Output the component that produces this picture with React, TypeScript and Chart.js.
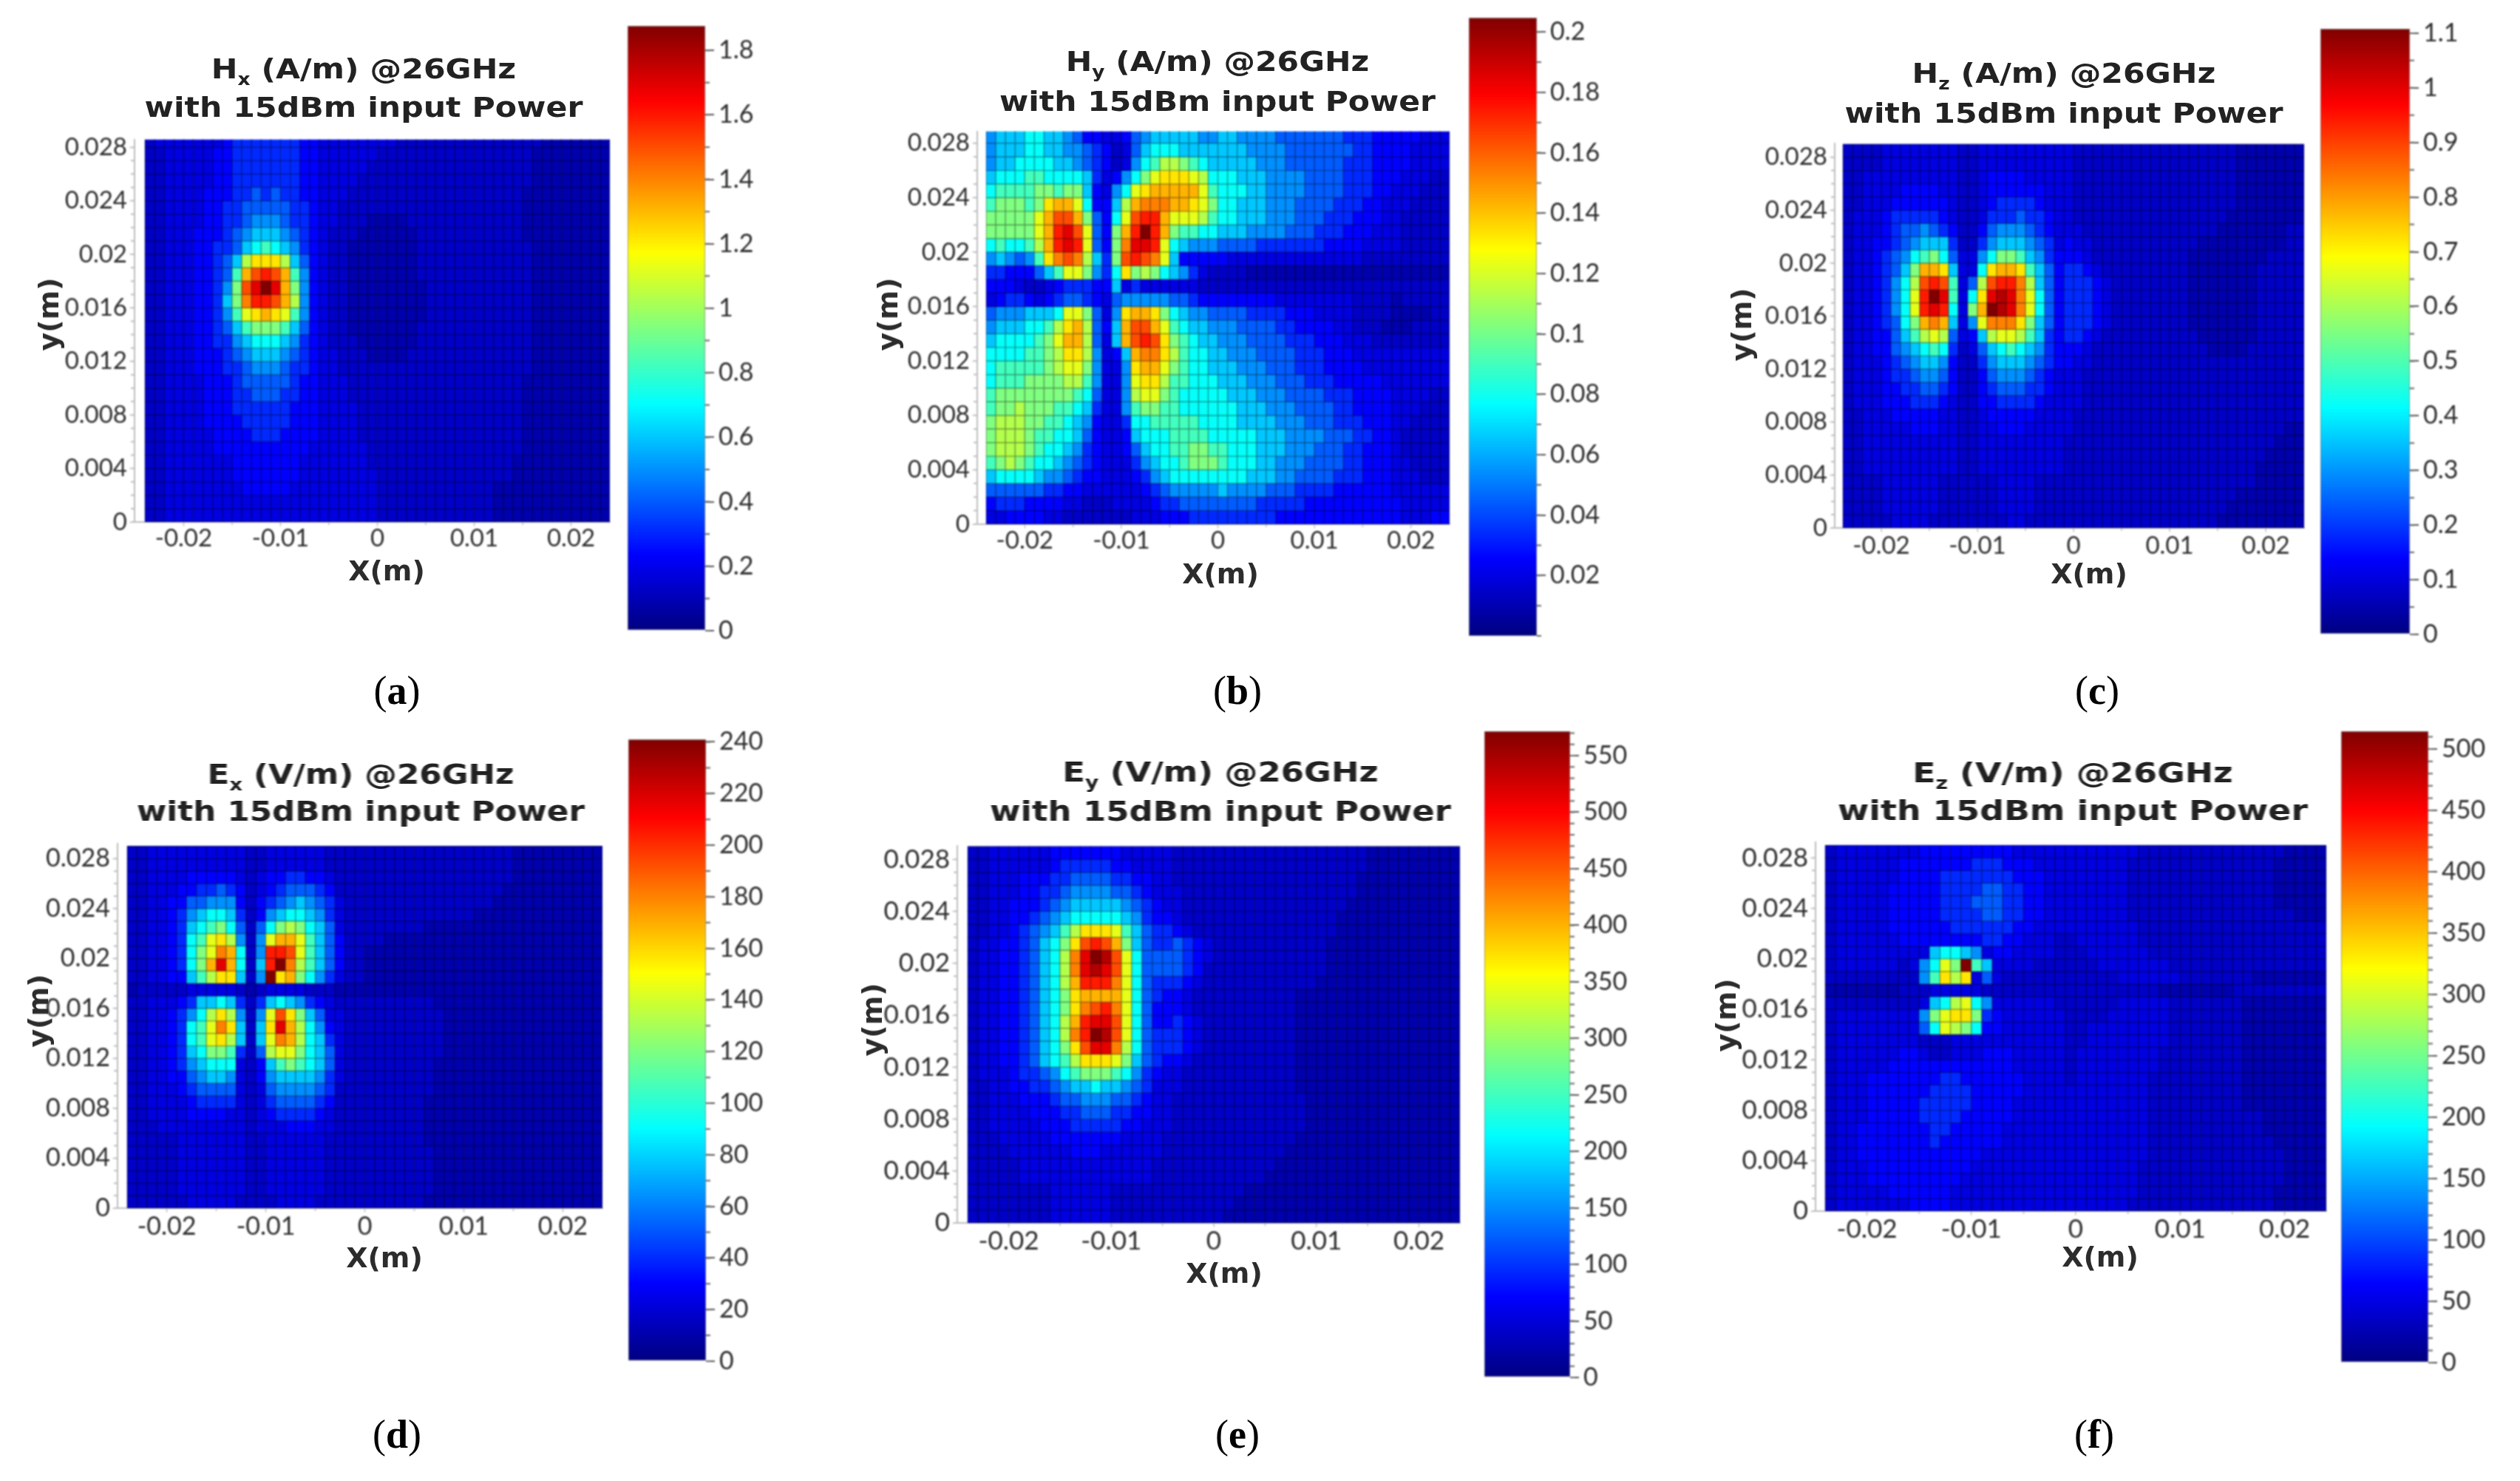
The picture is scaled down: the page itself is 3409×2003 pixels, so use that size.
import React, { useEffect, useRef } from "react";
import { Chart, registerables } from "chart.js";

Chart.register(...registerables);

// Field maps: one string per row, top row first, one character per 1 mm column.
// A character (base 36, 0..k) indexes levelFractions: the share of the panel's colour-bar maximum.
const levelFractions = [
  0.045, 0.07, 0.095, 0.125, 0.165, 0.215, 0.265, 0.32, 0.38, 0.44, 0.5, 0.55, 0.6, 0.65, 0.7, 0.75, 0.8, 0.85, 0.9, 0.95, 1,
];

const hxRows = [
  "12222222 344444443 3222222221111111111111110000000",
  "11222223 344444443 3222222111111111111111100000000",
  "11222223 344444443 3222221111111111111111100000000",
  "11222223 344444443 3222211111111111111111100000000",
  "11222233 344545443 3222111111111111111111000000000",
  "11222233 445555544 3221111111111111111111000000000",
  "11222233 445666544 3221110000111111111111000000000",
  "11222333 456777654 3211100000011111111111000000000",
  "11222334 457898764 3211000000011111111111100000000",
  "11222334 57bdddb75 3211000000011111111111100000000",
  "11222334 59eghge96 3211000000011111111111100000000",
  "11222334 6agikiea6 3211000000001111111111100000000",
  "11222334 7afhhgeb6 3211000000001111111111100000000",
  "11222334 69cdedc96 3211000000001111111111100000000",
  "11222334 579aaa975 3211000000011111111111100000000",
  "11222334 467888764 3211100000011111111111100000000",
  "11222333 456777654 3221110000111111111111100000000",
  "11222333 445666544 3221111111111111111111100000000",
  "11222233 345555543 3222111111111111111111000000000",
  "11222233 344555443 3222111111111111111111000000000",
  "11222233 344444433 3222211111111111111111000000000",
  "11222233 334444433 3222211111111111111111000000000",
  "11222223 333444333 3222211111111111111111000000000",
  "11222223 333333333 2222221111111111111111000000000",
  "11222222 233333332 2222221111111111111110000000000",
  "11222222 233333332 2222222111111111111110000000000",
  "11222222 223333322 2222222111111111111000000000000",
  "11222222 222222222 2222222111111111111000000000000",
  "11222222 222222222 2222222111111111111000000000000",
];

const hyRows = [
  "67778877 65332235 67777766 77666655 55555444 33333222",
  "67778877 66543125 78887777 77766665 55555544 33332222",
  "67788887 76543126 89bba987 77776665 55555444 33332222",
  "78889988 88742368 acdddcb8 88777666 65555444 33322211",
  "89999aa9 aa73268c deeeeec9 88877666 65555444 33222111",
  "9aaa9ade ec8337be fffeedca 88777666 55554443 32221111",
  "aaaaaceg gea538cg hhecccb9 88777666 55544433 32211111",
  "aaaaaceh igc53aeh khea9988 77766665 55444333 22211111",
  "89889beh ihc53afi ihc87666 55554444 44433332 22211111",
  "676569df gfb74agh gfc73333 32222222 22222221 11111111",
  "44333579 cca648da ba876421 11100000 00000000 00000000",
  "33321123 44433724 22222211 11111111 11111111 11111111",
  "23443234 55432566 66655433 33333322 22222211 11011111",
  "56667778 cca526de eda87665 55544443 33222211 11000011",
  "6777889b deb537eg gec98776 66555544 33332211 10001111",
  "788889ac eeb527eg hgda9877 66655554 44333222 11111111",
  "888899ab ddb6237e ffdb9887 76665555 44433322 22222222",
  "899999ab cca62 26d eeca9887 77666555 44433332 22222222",
  "899 9aaaa bb962 26c ddb99888 77766655 54443333 32222222",
  "9aaaaaaa a9852 26b cca98888 87776665 55544433 33222211",
  "9aabaaa9 98742 269 aa998888 88777666 55554433 33222111",
  "abbbaa99 87632 248 89999988 88777766 65554443 33221111",
  "abbba998 87532 237 88899998 88887776 66655544 33211111",
  "abbba988 76432 235 78899aa9 98887776 66555443 33211111",
  "9aba9887 65432 224 67889aaa 98887766 65555443 33221111",
  "78888766 54332 223 46788888 88877766 55554443 33222111",
  "55555544 33222 222 34566666 76666555 44443333 33222222",
  "34443333 22111 222 23445555 55554444 43333333 33322222",
  "22333322 11111 112 22333444 44444433 33333333 33322233",
];

const hzRows = [
  "1111 22222222 11 22222222 2211111 1111111111110000000",
  "1111 22222222 11 22222222 2211111 1111111111110000000",
  "1122 22222222 11 23333222 2211111 1111111111110000000",
  "1122 22333322 11 23333332 2211111 1111111111110000000",
  "1122 23333332 11 23444432 2211111 1111111111110000000",
  "1222 34444432 11 24445443 2211111 1111111111100000000",
  "1222 34556543 11 35666543 2221111 1111111111000000011",
  "1223 34567774 11 46777654 2322111 1111111100000000011",
  "1223 45689a85 22 68aa9764 3332111 1111111000000001111",
  "1223 457aeed7 22 8deed975 3443211 1111111000000011111",
  "1223 468bghg9 25 bghhfb75 3444321 1111111000000011111",
  "1223 468chki9 28 dijifc85 3444321 1111111000000011111",
  "1223 468chih8 2a ekjifc85 3444321 1111111000000011111",
  "1223 458aefe7 26 cfffda75 3444321 1111111000000011111",
  "1223 3579bcb5 23 7bccb974 3443211 1111111100000011111",
  "1223 35678984 12 57898764 3332111 1111111110000111111",
  "1222 34567763 11 46777654 3322111 1111111111111111111",
  "1222 34456653 11 35666543 2221111 1111111111111111111",
  "1222 33445543 11 34555443 2221111 1111111111111111111",
  "1222 33344432 11 33444432 2221111 1111111111111111111",
  "1122 23333322 11 23333322 2211111 1111111111111111111",
  "1122 22233322 11 22333222 2211111 1111111111111111100",
  "1122 22222222 11 22222222 2111111 1111111111111111000",
  "1122 22222222 11 22222222 2111111 1111111111111110000",
  "1122 22222222 11 22222222 2111111 1111111111111100000",
  "1111 22222211 11 11222211 1111111 1111111111111100000",
  "1111 22222211 11 11222211 1111111 1111111111110000000",
  "1111 22222211 11 11222211 1111111 1111111111100000000",
  "1111 12222111 11 11122111 1111111 1111111111000000000",
];

const exRows = [
  "112222 222222 1 12222221 111111111111111111000000000",
  "112222 222222 1 12222221 111111111111111111000000000",
  "112222 333332 1 23344332 111111111111111111000000000",
  "112223 344543 1 23455543 111111111111111110000000000",
  "112233 556663 1 34567654 211111111111111100000000000",
  "112234 678874 1 36788764 211111111111110000000000000",
  "112234 789a85 1 58aba875 211111111000000000000000000",
  "112234 89cdb6 1 6ceec975 311110000000000000000000000",
  "112234 8acfe8 1 6hhgc975 311000000000000000000000000",
  "112234 8aeie8 1 7hkfb975 311000000000000000000000000",
  "112233 79bdd7 1 6kdea864 211000000000000000000000000",
  "011111 222221 0 12222111 000000000000000000000000000",
  "112223 477874 1 47876432 111111111100000000000000000",
  "112234 68bdb6 1 6cgda752 211111111110000000000000000",
  "112234 89cfd7 1 7dieb863 211111111110000000000000000",
  "112234 89cdb7 1 7cfeb874 211111111110000000000000000",
  "112234 78aa94 1 5bcca875 211111111110000000000000000",
  "112234 678882 1 379a9875 211111111100000000000000000",
  "112233 567762 1 36777764 211111111100000000000000000",
  "112223 455552 1 25666654 111111111100000000000000000",
  "112222 344442 1 24555543 111111111000000000000000000",
  "112222 333322 1 23444432 111111111000000000000000000",
  "111222 222222 1 22233322 111111111000000000000000000",
  "111112 222222 1 12222221 111111111000000000000000000",
  "111112 222222 1 12222221 111111111100000000000000000",
  "111112 222222 1 12222221 111111111100000000000000000",
  "111112 222222 1 12222221 111111111100000000000000000",
  "111112 222222 1 12222221 111111111100000000000000000",
  "111111 222221 1 11222211 111111111000000000000000000",
];

const eyRows = [
  "112222 22333333322 2221111 111111111111111000000000",
  "112222 22344444332 2221111 111111111111111000000000",
  "112223 33445555443 3221111 111111111111110000000000",
  "112223 34456666554 3222111 111111111111110000000000",
  "112233 34567777765 4322111 111111111111100000000000",
  "112233 45678888876 4332111 111111111111000000000000",
  "112234 5679bdddc97 5443211 111111111111000000000000",
  "122334 578adghgea7 5445432 111111111110000000000000",
  "122334 578bfikjgc8 5555432 111111111110000000000000",
  "122334 578bfijigc8 5555431 111111111110000000000000",
  "122334 578behhhfc8 5444321 111111111100000000000000",
  "122334 578adeeeec8 5433211 111111110000000000000000",
  "122334 578adfghfc8 5333211 111111110000000000000000",
  "122334 578behiigc8 5334321 111111110000000000000000",
  "122334 578bfhkjgc8 5444321 111111110000000000000000",
  "122334 578adgiifb8 5444321 111111110000000000000000",
  "122334 5789bdddca7 5433211 111111110000000000000000",
  "122234 45689aaa986 4322111 111111110000000000000000",
  "112233 44567787765 4222111 111111110000000000000000",
  "112223 33455666554 3221111 111111111000000000000000",
  "112222 33344555443 3221111 111111111000000000000000",
  "112222 23334444433 2221111 111111111000000000000000",
  "111222 22333333322 2211111 111111110000000000000000",
  "111122 22223332222 2211111 111111100000000000000000",
  "111112 22222222222 2111111 111111000000000000000000",
  "111112 22222222222 2111111 111110000000000000000000",
  "111111 11222222111 1111111 111000000000000000000000",
  "111111 11222222111 1111111 110000000000000000000000",
  "111111 11222222111 1111111 100000000000000000000000",
];

const ezRows = [
  "12222222 23333333 33222222 222222111111111111110000",
  "12222223 33333344 43332222 222221111111111111100000",
  "12222223 33344444 44333222 222221111111111111100000",
  "12222233 33344445 54433222 222221111111111111100000",
  "12222233 33344455 54433222 222221111111111111100000",
  "12222233 33344445 54433222 222221111111111111111000",
  "12222233 33334444 44332222 222222111111111111111111",
  "12222223 33333334 43322211 222222111111111111111111",
  "12222222 22788762 33222211 122222211111111111111111",
  "12222221 268cak97 22221111 112222222111111111111111",
  "11111111 169dbd25 21111111 111122222211111110000000",
  "00000001 11222221 11111111 111111110000000111111111",
  "11111111 1278bc86 22222211 111122222111111100000000",
  "12222222 26acdda4 32222221 111222222111111100000000",
  "12222222 258cba83 32222221 122222222111111100000000",
  "12222222 21112222 22222221 122222222111111100000000",
  "12222223 32112223 33222221 222222221111111100000000",
  "12222233 33333333 33222221 222222221111111100000000",
  "12223333 33344333 33322221 222222211111111100000000",
  "12223333 33444433 33322222 222222211111111100000000",
  "12223333 34444433 33222222 222222211111111100000000",
  "12223333 34444333 33222222 222222211111111111000000",
  "12233333 33443333 32222222 222222211111111111000000",
  "12233333 33433333 32222222 222222211111111111100000",
  "12233333 33333332 22222222 222222211111111111110000",
  "12223333 33333322 22222222 222222111111111111110000",
  "12223333 33333222 22222222 222222111111111111110000",
  "12222233 33332222 22222222 222222111111111111100000",
  "12222222 33332222 22222222 222221111111111111100000",
];

// Colour-bar maxima
const hxMax = 1.876;
const hyMax = 0.2047;
const hzMax = 1.108;
const exMax = 241;
const eyMax = 571.6;
const ezMax = 514.5;

// Axis ticks
const xTicks = [-0.02, -0.01, 0, 0.01, 0.02];
const yTicks = [0, 0.004, 0.008, 0.012, 0.016, 0.02, 0.024, 0.028];
const hxBarTicks = [0, 0.2, 0.4, 0.6, 0.8, 1, 1.2, 1.4, 1.6, 1.8];
const hyBarTicks = [0.02, 0.04, 0.06, 0.08, 0.1, 0.12, 0.14, 0.16, 0.18, 0.2];
const hzBarTicks = [0, 0.1, 0.2, 0.3, 0.4, 0.5, 0.6, 0.7, 0.8, 0.9, 1, 1.1];
const exBarTicks = [0, 20, 40, 60, 80, 100, 120, 140, 160, 180, 200, 220, 240];
const eyBarTicks = [0, 50, 100, 150, 200, 250, 300, 350, 400, 450, 500, 550];
const ezBarTicks = [0, 50, 100, 150, 200, 250, 300, 350, 400, 450, 500];

const titleLine2 = "with 15dBm input Power";

// Layout of the six panels, in page pixels
const panels = [
  { letter: "a", f: "H", sub: "x", unit: "A/m", rows: hxRows, max: hxMax, barTicks: hxBarTicks, barMinor: 0.1,
    L: 196, R: 825, T: 186, B: 706, axisX: 182, pyMm: 18.2, tickY: 729, font: 33,
    t1: 95, t2: 147, tc: 492, tw: 593, xl: [523, 772], yl: [66, 425], bar: [849, 954, 35, 853], cap: [537, 935] },
  { letter: "b", f: "H", sub: "y", unit: "A/m", rows: hyRows, max: hyMax, barTicks: hyBarTicks, barMinor: 0.01,
    L: 1334, R: 1961, T: 175, B: 709, axisX: 1322, pyMm: 18.5, tickY: 732, font: 33,
    t1: 85, t2: 139, tc: 1647, tw: 590, xl: [1651, 776], yl: [1201, 425], bar: [1987, 2079, 24, 860], cap: [1674, 935] },
  { letter: "c", f: "H", sub: "z", unit: "A/m", rows: hzRows, max: hzMax, barTicks: hzBarTicks, barMinor: 0.05,
    L: 2493, R: 3117, T: 191, B: 714, axisX: 2482, pyMm: 18.0, tickY: 739, font: 33,
    t1: 101, t2: 155, tc: 2792, tw: 593, xl: [2826, 776], yl: [2356, 439], bar: [3139, 3260, 39, 858], cap: [2837, 935] },
  { letter: "d", f: "E", sub: "x", unit: "V/m", rows: exRows, max: exMax, barTicks: exBarTicks, barMinor: 10,
    L: 172, R: 815, T: 1138, B: 1634, axisX: 159, pyMm: 17.0, tickY: 1660, font: 34,
    t1: 1049, t2: 1099, tc: 488, tw: 606, xl: [520, 1701], yl: [52, 1367], bar: [850, 955, 1000, 1841], cap: [537, 1941] },
  { letter: "e", f: "E", sub: "y", unit: "V/m", rows: eyRows, max: eyMax, barTicks: eyBarTicks, barMinor: 10,
    L: 1309, R: 1975, T: 1140, B: 1654, axisX: 1295, pyMm: 17.7, tickY: 1680, font: 35,
    t1: 1046, t2: 1099, tc: 1651, tw: 624, xl: [1656, 1722], yl: [1180, 1379], bar: [2008, 2124, 989, 1863], cap: [1674, 1941] },
  { letter: "f", f: "E", sub: "z", unit: "V/m", rows: ezRows, max: ezMax, barTicks: ezBarTicks, barMinor: 10,
    L: 2469, R: 3147, T: 1135, B: 1638, axisX: 2456, pyMm: 17.2, tickY: 1664, font: 35,
    t1: 1047, t2: 1098, tc: 2804, tw: 636, xl: [2841, 1700], yl: [2335, 1373], bar: [3167, 3285, 989, 1843], cap: [2833, 1941] },
];

function jetRgb(t: number, k: number): string {
  const ramp = (c: number) => Math.round(255 * k * Math.max(0, Math.min(1, 1.5 - Math.abs(4 * t - c))));
  return `rgb(${ramp(3)},${ramp(2)},${ramp(1)})`;
}
const jet = (t: number) => jetRgb(t, 1);
const jetDark = (t: number) => jetRgb(t, 0.55);

function steps(from: number, to: number, step: number): number[] {
  const out: number[] = [];
  for (let i = 0; from + i * step <= to + step * 1e-6; i++) out.push(from + i * step);
  return out;
}

function minorTicks(axis: string, values: number[], len: number, color: string, width: number, dir: number) {
  return {
    id: "minor-" + axis,
    afterDraw(chart: any) {
      const scale = chart.scales[axis];
      const c = chart.ctx;
      c.save();
      c.strokeStyle = color;
      c.lineWidth = width;
      c.beginPath();
      for (const v of values) {
        const p = scale.getPixelForValue(v);
        if (scale.isHorizontal()) {
          if (p < scale.left || p > scale.right) continue;
          c.moveTo(p, scale.top);
          c.lineTo(p, scale.top + dir * len);
        } else {
          if (p < scale.top - 1 || p > scale.bottom + 1) continue;
          const x0 = scale.position === "left" ? scale.right : scale.left;
          c.moveTo(x0, p);
          c.lineTo(x0 + dir * len, p);
        }
      }
      c.stroke();
      c.restore();
    },
  };
}

const tickFontFamily = "Lato, 'Noto Sans', sans-serif";

function HeatMap({ p }: { p: any }) {
  const ref = useRef<HTMLCanvasElement>(null);
  const padL = 110, padT = 20, padR = 25, padB = 60;
  const left = p.axisX - padL;
  const top = p.T - padT;
  const width = p.R + padR - left;
  const height = p.B + padB - top;
  useEffect(() => {
    const pxMm = (p.R - p.L) / 48;
    const xMin = (-24 - (p.L - p.axisX) / pxMm) / 1000;
    const yMax = (p.B - p.T) / p.pyMm / 1000;
    const datasets = p.rows.map((raw: string, r: number) => {
      const row = raw.replace(/ /g, "");
      const data: any[] = [];
      const bg: string[] = [];
      const bd: string[] = [];
      for (let c = 0; c < 48; c++) {
        const ch = row[c] ?? row[row.length - 1];
        const share = levelFractions[parseInt(ch, 36)];
        data.push({ x: (-23.5 + c) / 1000, y: [(28 - r) / 1000, (29 - r) / 1000], v: share * p.max });
        bg.push(jet(share));
        bd.push(jetDark(share));
      }
      return {
        label: "row " + r,
        data,
        backgroundColor: bg,
        borderColor: bd,
        borderWidth: 1,
        borderSkipped: false,
        inflateAmount: 0.4,
        barPercentage: 1,
        categoryPercentage: 1,
        grouped: false,
        clip: 0,
      };
    });
    const font = { family: tickFontFamily, size: p.font };
    const chart = new Chart(ref.current!, {
      type: "bar",
      data: { datasets },
      plugins: [
        minorTicks("y", steps(0, 0.028, 0.001), 5, "#bdbdbd", 2, -1),
        minorTicks("x", steps(-0.02, 0.02, 0.005), 4, "#c8c8c8", 2, 1),
      ],
      options: {
        responsive: false,
        animation: false,
        events: [],
        layout: { padding: { top: padT, right: padR, left: 0, bottom: 0 } },
        plugins: { legend: { display: false }, tooltip: { enabled: false }, title: { display: false } },
        scales: {
          x: {
            type: "linear",
            offset: false,
            min: xMin,
            max: 0.024,
            grid: { offset: false, drawOnChartArea: false, tickLength: 6, color: "#bdbdbd" },
            border: { color: "#bdbdbd", width: 2 },
            ticks: {
              autoSkip: false,
              maxRotation: 0,
              minRotation: 0,
              padding: p.tickY - p.B - 6 - Math.round(p.font * 0.62),
              color: "#2c2c2c",
              font,
              callback: (v: any) => String(v),
            },
            afterBuildTicks: (s: any) => { s.ticks = xTicks.map((value) => ({ value })); },
            afterFit: (s: any) => { s.height = padB; },
          },
          y: {
            type: "linear",
            min: 0,
            max: yMax,
            grid: { drawOnChartArea: false, tickLength: 7, color: "#bdbdbd" },
            border: { color: "#bdbdbd", width: 2 },
            ticks: {
              autoSkip: false,
              padding: 3,
              color: "#2c2c2c",
              font,
              callback: (v: any) => String(v),
            },
            afterBuildTicks: (s: any) => { s.ticks = yTicks.map((value) => ({ value })); },
            afterFit: (s: any) => { s.width = padL; },
          },
        },
      },
    } as any);
    return () => chart.destroy();
  }, [p]);
  return (
    <canvas
      ref={ref}
      width={width}
      height={height}
      style={{ position: "absolute", left, top, width, height, filter: "blur(1px)" }}
    />
  );
}

function ColorBar({ p }: { p: any }) {
  const ref = useRef<HTMLCanvasElement>(null);
  const [bl, br, bt, bb] = p.bar;
  const padL = 4, padT = 30, padB = 30, padR = 130;
  const left = bl - padL;
  const top = bt - padT;
  const width = br - bl + padL + padR;
  const height = bb - bt + padT + padB;
  useEffect(() => {
    const gradient = (ctx: any) => {
      const { ctx: c, chartArea } = ctx.chart;
      if (!chartArea) return "#000080";
      const g = c.createLinearGradient(0, chartArea.bottom, 0, chartArea.top);
      [0, 0.125, 0.375, 0.625, 0.875, 1].forEach((s) => g.addColorStop(s, jet(s)));
      return g;
    };
    const chart = new Chart(ref.current!, {
      type: "bar",
      data: {
        labels: ["scale"],
        datasets: [
          {
            label: "scale",
            data: [[0, p.max]],
            backgroundColor: gradient,
            borderColor: "rgba(70,70,70,0.7)",
            borderWidth: 1,
            borderSkipped: false,
            barPercentage: 1,
            categoryPercentage: 1,
          },
        ],
      },
      plugins: [minorTicks("y", steps(0, p.max, p.barMinor), 6, "#666", 2, 1)],
      options: {
        responsive: false,
        animation: false,
        events: [],
        layout: { padding: { top: padT, bottom: padB, left: padL, right: 0 } },
        plugins: { legend: { display: false }, tooltip: { enabled: false }, title: { display: false } },
        scales: {
          x: { display: false },
          y: {
            position: "right",
            type: "linear",
            min: 0,
            max: p.max,
            grid: { drawOnChartArea: false, tickLength: 12, color: "#555", lineWidth: 2 },
            border: { display: false },
            ticks: {
              autoSkip: false,
              padding: 6,
              color: "#2c2c2c",
              font: { family: tickFontFamily, size: 34 },
              callback: (v: any) => String(v),
            },
            afterBuildTicks: (s: any) => { s.ticks = p.barTicks.map((value: number) => ({ value })); },
            afterFit: (s: any) => { s.width = padR; },
          },
        },
      },
    } as any);
    return () => chart.destroy();
  }, [p]);
  return (
    <canvas
      ref={ref}
      width={width}
      height={height}
      style={{ position: "absolute", left, top, width, height, filter: "blur(1px)" }}
    />
  );
}

const bold = "'DejaVu Sans', sans-serif";
const BASE_TITLE_WIDTH = 527.8;

function Texts({ p }: { p: any }) {
  const sx = p.tw / BASE_TITLE_WIDTH;
  const line = (y: number, children: React.ReactNode) => (
    <div
      style={{
        position: "absolute",
        left: p.tc,
        top: y - 24,
        height: 48,
        lineHeight: "48px",
        whiteSpace: "nowrap",
        transform: `translateX(-50%) scaleX(${sx})`,
        font: `bold 38px ${bold}`,
        color: "#222",
        filter: "blur(0.7px)",
      }}
    >
      {children}
    </div>
  );
  const axisLabel: React.CSSProperties = {
    position: "absolute",
    whiteSpace: "nowrap",
    font: `bold 38px ${bold}`,
    color: "#2c2c2c",
    lineHeight: "44px",
    filter: "blur(0.7px)",
  };
  return (
    <>
      {line(p.t1, (
        <>
          {p.f}
          <sub style={{ fontSize: "62%", lineHeight: 0 }}>{p.sub}</sub> ({p.unit}) @26GHz
        </>
      ))}
      {line(p.t2, titleLine2)}
      <div style={{ ...axisLabel, left: p.xl[0], top: p.xl[1] - 22, transform: "translateX(-50%)" }}>X(m)</div>
      <div style={{ ...axisLabel, left: p.yl[0], top: p.yl[1] - 22, transform: "translateX(-50%) rotate(-90deg)" }}>y(m)</div>
      <div
        style={{
          position: "absolute",
          left: p.cap[0],
          top: p.cap[1] - 32,
          lineHeight: "64px",
          transform: "translateX(-50%)",
          font: "54px 'Liberation Serif', serif",
          color: "#000",
          whiteSpace: "nowrap",
        }}
      >
        (<b>{p.letter}</b>)
      </div>
    </>
  );
}

export default function App() {
  return (
    <div style={{ position: "absolute", left: 0, top: 0, width: 3409, height: 2003, overflow: "hidden", background: "#fff" }}>
      {panels.map((p) => (
        <React.Fragment key={p.letter}>
          <HeatMap p={p} />
          <ColorBar p={p} />
          <Texts p={p} />
        </React.Fragment>
      ))}
    </div>
  );
}
